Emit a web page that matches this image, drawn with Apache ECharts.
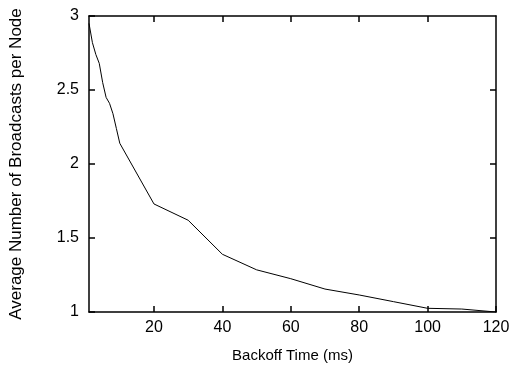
<!DOCTYPE html>
<html><head><meta charset="utf-8">
<script src="https://cdn.jsdelivr.net/npm/echarts@6/dist/echarts.min.js"></script>
<style>html,body{margin:0;padding:0;background:#fff}#c{width:513px;height:372px}</style>
</head><body><div id="c"></div>
<script>
const backoffMs = [1,2,3,4,5,6,7,8,9,10,20,30,40,50,60,70,80,90,100,110,120];
const avgBroadcasts = [2.95,2.82,2.74,2.68,2.55,2.45,2.41,2.34,2.24,2.14,1.73,1.62,1.39,1.285,1.225,1.155,1.115,1.07,1.025,1.02,1.0];
const xTicks = [20,40,60,80,100,120];
const yTicks = [1,1.5,2,2.5,3];
const xTitle = 'Backoff Time (ms)';
const yTitle = 'Average Number of Broadcasts per Node';

const font = 'Liberation Sans, Arial, Helvetica, sans-serif';
const chart = echarts.init(document.getElementById('c'), null, {renderer:'canvas'});
const axW = 1.5;
const baseX = {type:'value', min:1, max:120,
  axisLine:{show:true, onZero:false, lineStyle:{color:'#000', width:axW}},
  splitLine:{show:false}};
const baseY = {type:'value', min:1, max:3,
  axisLine:{show:true, onZero:false, lineStyle:{color:'#000', width:axW}},
  splitLine:{show:false}};
chart.setOption({
  animation:false,
  grid:{left:86, right:17, top:16, bottom:60, containLabel:false},
  xAxis:[
    Object.assign({}, baseX, {position:'bottom',
      name:xTitle, nameLocation:'middle', nameGap:36,
      nameTextStyle:{fontFamily:font, fontSize:15, color:'#000'},
      axisTick:{show:true, inside:true, length:6, customValues:xTicks, lineStyle:{color:'#000', width:axW}},
      axisLabel:{show:true, customValues:xTicks, margin:8, fontFamily:font, fontSize:16, color:'#000'}}),
    Object.assign({}, baseX, {position:'top',
      axisTick:{show:true, inside:true, length:6, customValues:xTicks.slice(0,-1), lineStyle:{color:'#000', width:axW}},
      axisLabel:{show:false}})
  ],
  yAxis:[
    Object.assign({}, baseY, {position:'left',
      name:yTitle, nameLocation:'middle', nameGap:64, nameRotate:90,
      nameTextStyle:{fontFamily:font, fontSize:17, color:'#000'},
      axisTick:{show:true, inside:true, length:6, customValues:yTicks, lineStyle:{color:'#000', width:axW}},
      axisLabel:{show:true, customValues:yTicks, margin:10, fontFamily:font, fontSize:16, color:'#000',
        formatter:v=>String(v)}}),
    Object.assign({}, baseY, {position:'right',
      axisTick:{show:true, inside:true, length:6, customValues:yTicks.slice(1,-1), lineStyle:{color:'#000', width:axW}},
      axisLabel:{show:false}})
  ],
  series:[{type:'line', xAxisIndex:0, yAxisIndex:0, showSymbol:false, symbol:'none',
    data: backoffMs.map((x,i)=>[x, avgBroadcasts[i]]),
    lineStyle:{color:'#000', width:1}}]
});
</script></body></html>
